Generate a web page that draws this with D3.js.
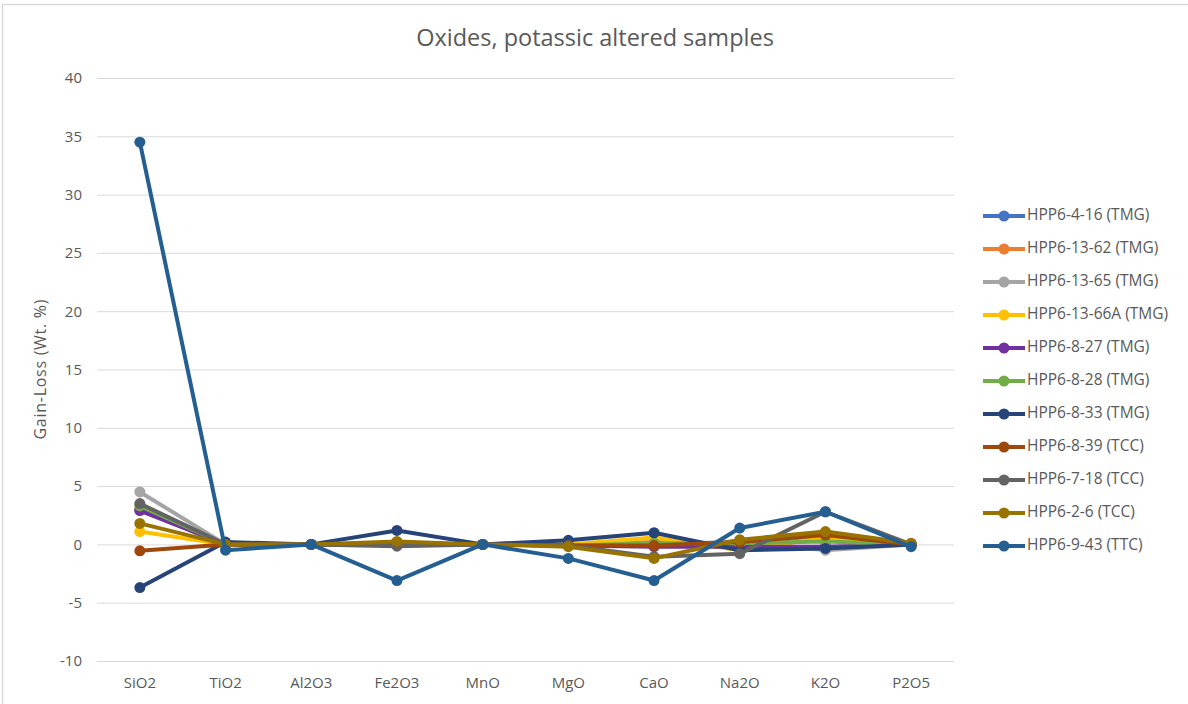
<!DOCTYPE html>
<html>
<head>
<meta charset="utf-8">
<script src="https://cdn.jsdelivr.net/npm/d3@7"></script>
<style>
  html, body { margin: 0; padding: 0; background: #fff; }
  svg { display: block; }
  text { font-family: "Open Sans", "Noto Sans", sans-serif; fill: #595959; }
</style>
</head>
<body>
<svg id="chart" width="1188" height="704"></svg>
<script>
// Oxide categories along the x axis
const oxides = ["SiO2", "TiO2", "Al2O3", "Fe2O3", "MnO", "MgO", "CaO", "Na2O", "K2O", "P2O5"];

// Y axis ticks (Wt. %)
const yTicks = [-10, -5, 0, 5, 10, 15, 20, 25, 30, 35, 40];

// Sample names and colours
const sampleNames = [
  "HPP6-4-16 (TMG)", "HPP6-13-62 (TMG)", "HPP6-13-65 (TMG)", "HPP6-13-66A (TMG)",
  "HPP6-8-27 (TMG)", "HPP6-8-28 (TMG)", "HPP6-8-33 (TMG)", "HPP6-8-39 (TCC)",
  "HPP6-7-18 (TCC)", "HPP6-2-6 (TCC)", "HPP6-9-43 (TTC)"
];
const sampleColors = [
  "#4472C4", "#ED7D31", "#A5A5A5", "#FFC000", "#7030A0", "#70AD47",
  "#264478", "#9E480E", "#636363", "#997300", "#255E91"
];

// Gain-loss values per sample, in oxide order
const hpp6_4_16   = [ 3.0,  0.0, 0, 0.0,  0, -0.1,  0.1, -0.1,  0.5,  0.0];
const hpp6_13_62  = [ 3.0,  0.0, 0, 0.0,  0,  0.0,  0.2,  0.0,  0.9,  0.0];
const hpp6_13_65  = [ 4.5,  0.0, 0, 0.0,  0,  0.0, -0.1,  0.3, -0.5,  0.0];
const hpp6_13_66A = [ 1.1,  0.0, 0, 0.1,  0,  0.0,  0.6, -0.5,  0.6,  0.0];
const hpp6_8_27   = [ 2.9,  0.0, 0, 0.0,  0, -0.1, -0.2, -0.2, -0.2,  0.0];
const hpp6_8_28   = [ 3.3,  0.0, 0, 0.0,  0, -0.1,  0.1,  0.1,  0.25, 0.0];
const hpp6_8_33   = [-3.7,  0.2, 0, 1.2,  0,  0.35, 1.0, -0.5, -0.35, 0.0];
const hpp6_8_39   = [-0.55, 0.0, 0, 0.0,  0, -0.1, -0.1,  0.2,  0.8,  0.0];
const hpp6_7_18   = [ 3.5,  0.0, 0, -0.15, 0, -0.1, -1.05, -0.8, 2.8,  0.0];
const hpp6_2_6    = [ 1.8,  0.0, 0, 0.25, 0, -0.2, -1.2,  0.4,  1.1,  0.1];
const hpp6_9_43   = [34.5, -0.5, 0, -3.1, 0, -1.2, -3.1,  1.4,  2.8, -0.2];

const sampleValues = [
  hpp6_4_16, hpp6_13_62, hpp6_13_65, hpp6_13_66A, hpp6_8_27, hpp6_8_28,
  hpp6_8_33, hpp6_8_39, hpp6_7_18, hpp6_2_6, hpp6_9_43
];

const series = sampleNames.map((name, i) => ({
  name, color: sampleColors[i],
  points: oxides.map((ox, j) => ({ ox, v: sampleValues[i][j] }))
}));

const svg = d3.select("#chart");

// Outer chart frame
svg.append("rect")
  .attr("x", 2.5).attr("y", 4.5).attr("width", 1200).attr("height", 720)
  .attr("fill", "none").attr("stroke", "#d9d9d9").attr("stroke-width", 1.5);

const plot = { left: 97, right: 954, top: 78, bottom: 661 };

const x = d3.scaleBand().domain(oxides).range([plot.left, plot.right]).padding(0);
const y = d3.scaleLinear().domain([-10, 40]).range([plot.bottom, plot.top]);

// Horizontal gridlines
svg.append("g")
  .attr("transform", `translate(${plot.left},0)`)
  .call(d3.axisLeft(y).tickValues(yTicks).tickSize(-(plot.right - plot.left)).tickFormat(""))
  .call(g => g.select(".domain").remove())
  .call(g => g.selectAll("line").attr("stroke", "#d9d9d9").attr("stroke-width", 1));

// Y tick labels (plain hyphen for negatives)
svg.append("g")
  .attr("transform", `translate(${plot.left - 15},0)`)
  .call(d3.axisLeft(y).tickValues(yTicks).tickSize(0).tickPadding(0).tickFormat(d => String(d)))
  .call(g => g.select(".domain").remove())
  .call(g => g.selectAll("text")
    .attr("font-size", 15).attr("fill", "#595959")
    .style("font-family", '"Open Sans", sans-serif'));

// X category labels
svg.append("g")
  .attr("transform", `translate(0,${plot.bottom})`)
  .call(d3.axisBottom(x).tickSize(0).tickPadding(16))
  .call(g => g.select(".domain").remove())
  .call(g => g.selectAll("text")
    .attr("font-size", 15).attr("fill", "#595959")
    .style("font-family", '"Open Sans", sans-serif'));

// Axis title
svg.append("text")
  .attr("transform", `translate(42,${(plot.top + plot.bottom) / 2}) rotate(-90)`)
  .attr("text-anchor", "middle").attr("dominant-baseline", "middle")
  .attr("font-size", 16)
  .attr("textLength", 140).attr("lengthAdjust", "spacing")
  .text("Gain-Loss (Wt. %)");

// Chart title
svg.append("text")
  .attr("x", 595).attr("y", 40)
  .attr("text-anchor", "middle").attr("dominant-baseline", "middle")
  .attr("font-size", 23.5)
  .text("Oxides, potassic altered samples");

const cx = d => x(d.ox) + x.bandwidth() / 2;
const line = d3.line().x(cx).y(d => y(d.v));

// Sample lines with markers
const sg = svg.append("g").selectAll("g").data(series).join("g");
sg.append("path")
  .attr("d", d => line(d.points))
  .attr("fill", "none")
  .attr("stroke", d => d.color)
  .attr("stroke-width", 4)
  .attr("stroke-linejoin", "round");
sg.selectAll("circle").data(d => d.points.map(p => ({ ...p, color: d.color })))
  .join("circle")
  .attr("cx", cx).attr("cy", d => y(d.v))
  .attr("r", 5.5)
  .attr("fill", d => d.color);

// Legend
const legend = svg.append("g").attr("transform", "translate(983,216)");
const li = legend.selectAll("g").data(series).join("g")
  .attr("transform", (d, i) => `translate(0,${i * 33})`);
li.append("line")
  .attr("x1", 0).attr("x2", 42).attr("y1", 0).attr("y2", 0)
  .attr("stroke", d => d.color).attr("stroke-width", 4);
li.append("circle").attr("cx", 21).attr("cy", 0).attr("r", 5.5).attr("fill", d => d.color);
li.append("text")
  .attr("x", 44).attr("y", 0).attr("dominant-baseline", "middle")
  .attr("font-size", 15.5)
  .text(d => d.name);
</script>
</body>
</html>
